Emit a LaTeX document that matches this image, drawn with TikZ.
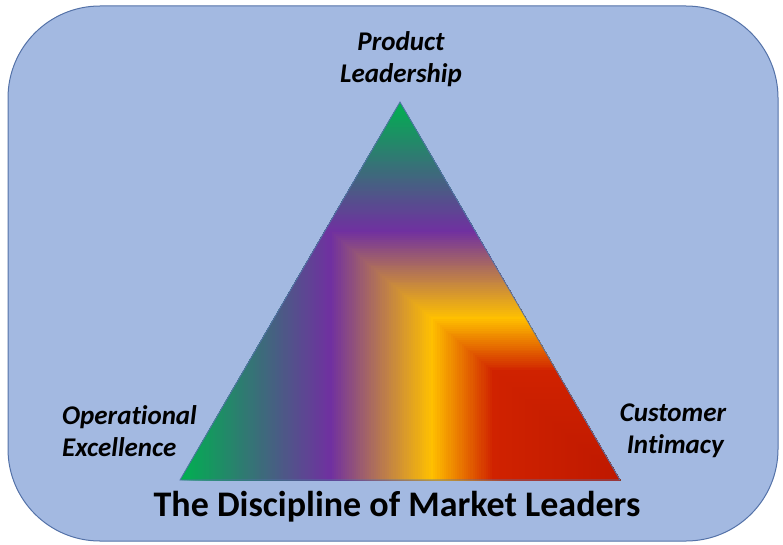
\documentclass[tikz,border=0pt]{standalone}
\usepackage{fontspec}
\setmainfont{Carlito}[Ligatures=CommonOff]
\definecolor{bgfill}{HTML}{A3B9E1}
\definecolor{bgline}{HTML}{5472A8}
\definecolor{gA}{HTML}{00B050}
\definecolor{gB}{HTML}{7030A0}
\definecolor{gC}{HTML}{FFC000}
\definecolor{gD}{HTML}{D02200}
\definecolor{gE}{HTML}{BE1800}
\tikzset{
  lbl/.style={font=\fontsize{27}{32}\selectfont\bfseries\itshape, text=black, inner sep=0pt},
  ttl/.style={font=\fontsize{36}{40}\selectfont\bfseries, text=black, inner sep=0pt}
}
\begin{document}
\begin{tikzpicture}[x=1pt,y=-1pt]
\useasboundingbox (0,0) rectangle (783,545);
\draw[bgline, line width=1pt, fill=bgfill, rounded corners=92pt] (8,6) rectangle (778,541);
\begin{scope}
  \clip (400,102) -- (620,480) -- (180,480) -- cycle;
  \foreach \i in {200,199,...,132}{
    \pgfmathsetmacro\p{(\i-132)/68*100}
    \fill[gA!\p!gB] ({620-2.2*\i},{480-1.89*\i}) rectangle (625,485);
  }
  \foreach \i in {131,130,...,86}{
    \pgfmathsetmacro\p{(\i-86)/46*100}
    \fill[gB!\p!gC] ({620-2.2*\i},{480-1.89*\i}) rectangle (625,485);
  }
  \foreach \i in {85,84,...,58}{
    \pgfmathsetmacro\p{(\i-58)/28*100}
    \fill[gC!\p!gD] ({620-2.2*\i},{480-1.89*\i}) rectangle (625,485);
  }
  \foreach \i in {57,56,...,1}{
    \pgfmathsetmacro\p{\i/58*100}
    \fill[gD!\p!gE] ({620-2.2*\i},{480-1.89*\i}) rectangle (625,485);
  }
\end{scope}
\draw[bgline, line width=0.8pt] (400,102) -- (620,480) -- (180,480) -- cycle;
\node[lbl, align=center] (pl) at (401,59) {Product\\Leadership};
\node[lbl, align=left, anchor=west] (oe) at (62,431) {Operational\\Excellence};
\node[lbl, align=center] (ci) at (673,431) {Customer\\\,Intimacy};
\node[ttl] (title) at (397,507) {The Discipline of Market Leaders};
\end{tikzpicture}
\end{document}
